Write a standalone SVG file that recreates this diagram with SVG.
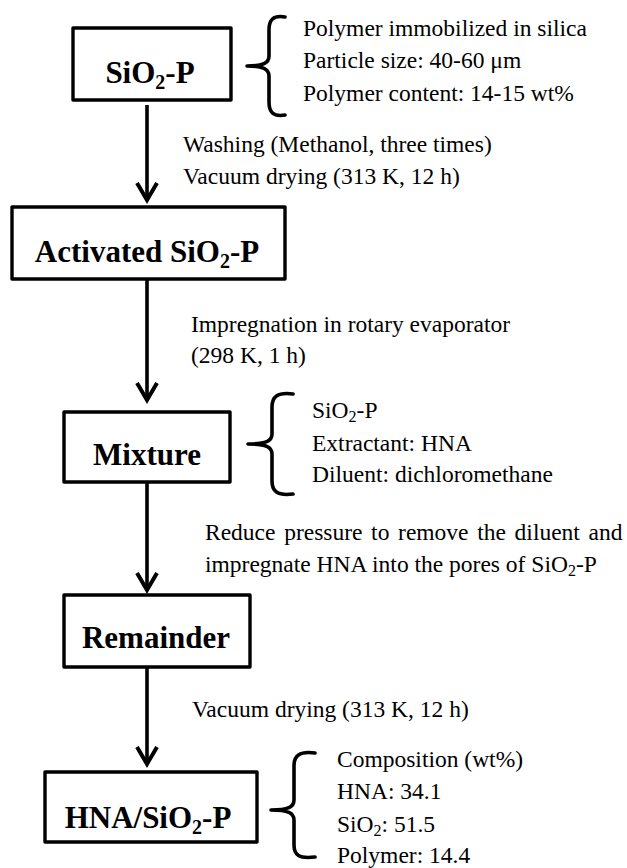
<svg xmlns="http://www.w3.org/2000/svg" width="627" height="868" viewBox="0 0 627 868">
<style>
.box{fill:#fff;stroke:#000;stroke-width:3.4;stroke-linejoin:round}
.lbl{font-family:"Liberation Serif","Times New Roman",serif;font-weight:bold;font-size:31px;fill:#000;text-anchor:middle}
.txt{font-family:"Liberation Serif","Times New Roman",serif;font-size:23.5px;fill:#000}
.brace{fill:none;stroke:#000;stroke-width:3.6;stroke-linecap:round;stroke-linejoin:round}
.conn{fill:none;stroke:#000;stroke-width:3.6}
</style>
<defs>
<marker id="ah" markerUnits="userSpaceOnUse" viewBox="-24 -14 28 28" markerWidth="28" markerHeight="28" refX="0" refY="0" orient="auto" overflow="visible">
<path d="M -17 -10 L 0 0 L -17 10" fill="none" stroke="#000" stroke-width="4"/>
</marker>
</defs>
<rect width="627" height="868" fill="#fff"/>

<g id="connectors">
<line class="conn" x1="147" y1="105" x2="147" y2="200" marker-end="url(#ah)"/>
<line class="conn" x1="147" y1="279" x2="147" y2="400" marker-end="url(#ah)"/>
<line class="conn" x1="147" y1="482" x2="147" y2="590" marker-end="url(#ah)"/>
<line class="conn" x1="147" y1="668" x2="147" y2="764" marker-end="url(#ah)"/>
</g>

<g id="node-sio2p">
<rect class="box" x="73" y="28" width="158" height="72"/>
<text class="lbl" x="150" y="83">SiO<tspan font-size="20" dy="6">2</tspan><tspan dy="-6">-P</tspan></text>
</g>

<g id="note-sio2p">
<path class="brace" d="M 285,17 C 273,15 269,20 269,30 L 269,56 C 269,63 263,66 247,66 C 263,66 269,69 269,76 L 269,102 C 269,112 273,117 285,115"/>
<text class="txt" x="303" y="36">Polymer immobilized in silica</text>
<text class="txt" x="303" y="68">Particle size: 40-60 μm</text>
<text class="txt" x="303" y="101">Polymer content: 14-15 wt%</text>
</g>

<g id="step-washing">
<text class="txt" x="183" y="152">Washing (Methanol, three times)</text>
<text class="txt" x="183" y="184">Vacuum drying (313 K, 12 h)</text>
</g>

<g id="node-activated">
<rect class="box" x="12" y="207" width="273" height="72"/>
<text class="lbl" x="147" y="262">Activated SiO<tspan font-size="20" dy="6">2</tspan><tspan dy="-6">-P</tspan></text>
</g>

<g id="step-impregnation">
<text class="txt" x="191" y="332">Impregnation in rotary evaporator</text>
<text class="txt" x="191" y="363">(298 K, 1 h)</text>
</g>

<g id="node-mixture">
<rect class="box" x="64" y="412" width="166" height="70"/>
<text class="lbl" x="147" y="465">Mixture</text>
</g>

<g id="note-mixture">
<path class="brace" d="M 293,394 C 277,392 272,397 272,407 L 272,434 C 272,441 266,444 248,444 C 266,444 272,447 272,454 L 272,481 C 272,491 277,496 293,494"/>
<text class="txt" x="312" y="418">SiO<tspan font-size="16" dy="4">2</tspan><tspan dy="-4">-P</tspan></text>
<text class="txt" x="312" y="451">Extractant: HNA</text>
<text class="txt" x="312" y="482">Diluent: dichloromethane</text>
</g>

<g id="step-reduce">
<text class="txt" x="205" y="540" word-spacing="2.8">Reduce pressure to remove the diluent and</text>
<text class="txt" x="205" y="572">impregnate HNA into the pores of SiO<tspan font-size="16" dy="4">2</tspan><tspan dy="-4">-P</tspan></text>
</g>

<g id="node-remainder">
<rect class="box" x="64" y="595" width="186" height="72"/>
<text class="lbl" x="156" y="648">Remainder</text>
</g>

<g id="step-drying">
<text class="txt" x="192" y="717">Vacuum drying (313 K, 12 h)</text>
</g>

<g id="node-hna">
<rect class="box" x="45" y="772" width="212" height="70"/>
<text class="lbl" x="148" y="828">HNA/SiO<tspan font-size="20" dy="6">2</tspan><tspan dy="-6">-P</tspan></text>
</g>

<g id="note-hna">
<path class="brace" d="M 315,753 C 299,751 294,756 294,766 L 294,800 C 294,807 288,810 271,810 C 288,810 294,813 294,820 L 294,845 C 294,855 299,859 315,857"/>
<text class="txt" x="337" y="767">Composition (wt%)</text>
<text class="txt" x="337" y="799">HNA: 34.1</text>
<text class="txt" x="337" y="832">SiO<tspan font-size="16" dy="4">2</tspan><tspan dy="-4">: 51.5</tspan></text>
<text class="txt" x="337" y="863">Polymer: 14.4</text>
</g>
</svg>
